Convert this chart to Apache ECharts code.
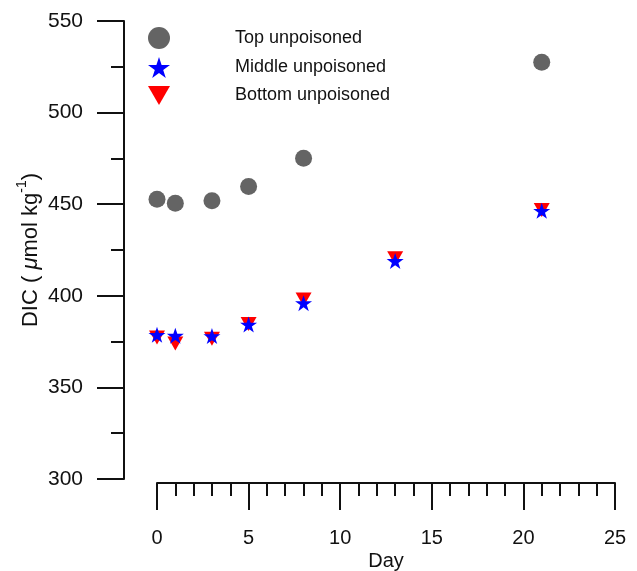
<!DOCTYPE html>
<html>
<head>
<meta charset="utf-8">
<script src="https://cdn.jsdelivr.net/npm/echarts@6/dist/echarts.min.js"></script>
<style>
html,body{margin:0;padding:0;background:#fff;}
#chart{width:637px;height:571px;}
</style>
</head>
<body>
<div id="chart"></div>
<script>
var seriesNames = ['Top unpoisoned', 'Middle unpoisoned', 'Bottom unpoisoned'];
var daysTop = [0, 1, 3, 5, 8, 21];
var topValues = [452.7, 450.5, 451.9, 459.6, 475.1, 527.5];
var daysMidBot = [0, 1, 3, 5, 8, 13, 21];
var middleValues = [378.7, 378.2, 378.0, 384.3, 396.0, 419.0, 446.4];
var bottomValues = [377.2, 374.0, 376.6, 384.6, 398.0, 420.5, 446.8];
var xTicks = [0, 5, 10, 15, 20, 25];
var yTicks = [300, 350, 400, 450, 500, 550];

var FONT = '"Liberation Sans", Arial, Helvetica, sans-serif';
var STAR = 'path://M50,0 L61.23,34.55 L97.55,34.55 L68.16,55.9 L79.39,90.45 L50,69.1 L20.61,90.45 L31.84,55.9 L2.45,34.55 L38.77,34.55 Z';
var TRI_DOWN = 'path://M0,0 L10,0 L5,8.66 Z';

function pairs(xs, ys) { return xs.map(function (x, i) { return [x, ys[i]]; }); }

var chart = echarts.init(document.getElementById('chart'), null, {renderer: 'canvas'});
chart.setOption({
  animation: false,
  backgroundColor: '#ffffff',
  textStyle: {fontFamily: FONT},
  grid: {left: 157, right: 22, top: 21, bottom: 92, containLabel: false, outerBoundsMode: 'none'},
  legend: {
    orient: 'vertical',
    left: 143,
    top: 22,
    itemWidth: 22,
    itemHeight: 22,
    itemGap: 8,
    symbolKeepAspect: true,
    data: [
      {name: seriesNames[0], icon: 'circle'},
      {name: seriesNames[1], icon: STAR},
      {name: seriesNames[2], icon: TRI_DOWN}
    ],
    formatter: function (n) { return '{t|' + n + '}'; },
    textStyle: {
      fontFamily: FONT, fontSize: 18, color: '#111',
      rich: {t: {fontFamily: FONT, fontSize: 18, color: '#111', padding: [0, 0, 0, 60]}}
    }
  },
  xAxis: {
    type: 'value',
    min: xTicks[0], max: xTicks[xTicks.length - 1], interval: 5,
    offset: 4,
    name: 'Day',
    nameLocation: 'middle',
    nameGap: 68,
    nameMoveOverlap: false,
    nameTextStyle: {fontFamily: FONT, fontSize: 20, color: '#111'},
    axisLine: {show: true, onZero: false, lineStyle: {color: '#111', width: 2}},
    axisTick: {show: true, inside: false, length: 27, lineStyle: {color: '#111', width: 2}},
    minorTick: {show: true, splitNumber: 5, length: 13, lineStyle: {color: '#111', width: 2}},
    axisLabel: {margin: 45, fontFamily: FONT, fontSize: 20, color: '#111'},
    splitLine: {show: false}
  },
  yAxis: {
    type: 'value',
    min: yTicks[0], max: yTicks[yTicks.length - 1], interval: 50,
    offset: 33,
    name: '{a|DIC ( }{m|μ}{a|mol kg}{s|-1}{a|)}',
    nameLocation: 'middle',
    nameGap: 82,
    nameMoveOverlap: false,
    nameTextStyle: {
      fontFamily: FONT, fontSize: 22, color: '#111',
      rich: {
        a: {fontFamily: FONT, fontSize: 22, color: '#111', lineHeight: 27, verticalAlign: 'bottom'},
        m: {fontFamily: FONT, fontSize: 22, color: '#111', fontStyle: 'italic', lineHeight: 27, verticalAlign: 'bottom'},
        s: {fontFamily: FONT, fontSize: 14, color: '#111', lineHeight: 14, verticalAlign: 'top'}
      }
    },
    axisLine: {show: true, onZero: false, lineStyle: {color: '#111', width: 2}},
    axisTick: {show: true, inside: false, length: 27, lineStyle: {color: '#111', width: 2}},
    minorTick: {show: true, splitNumber: 2, length: 13, lineStyle: {color: '#111', width: 2}},
    axisLabel: {margin: 41, fontFamily: FONT, fontSize: 21, color: '#111'},
    splitLine: {show: false}
  },
  series: [
    {
      name: seriesNames[0], type: 'scatter', symbol: 'circle', symbolSize: 17,
      itemStyle: {color: '#646464', opacity: 1}, z: 2,
      data: pairs(daysTop, topValues)
    },
    {
      name: seriesNames[2], type: 'scatter', symbol: TRI_DOWN, symbolSize: [16, 14],
      itemStyle: {color: '#ff0000', opacity: 1}, z: 3,
      data: pairs(daysMidBot, bottomValues)
    },
    {
      name: seriesNames[1], type: 'scatter', symbol: STAR, symbolSize: [17, 16],
      itemStyle: {color: '#0000ff', opacity: 1}, z: 4,
      data: pairs(daysMidBot, middleValues)
    }
  ]
});
</script>
</body>
</html>
